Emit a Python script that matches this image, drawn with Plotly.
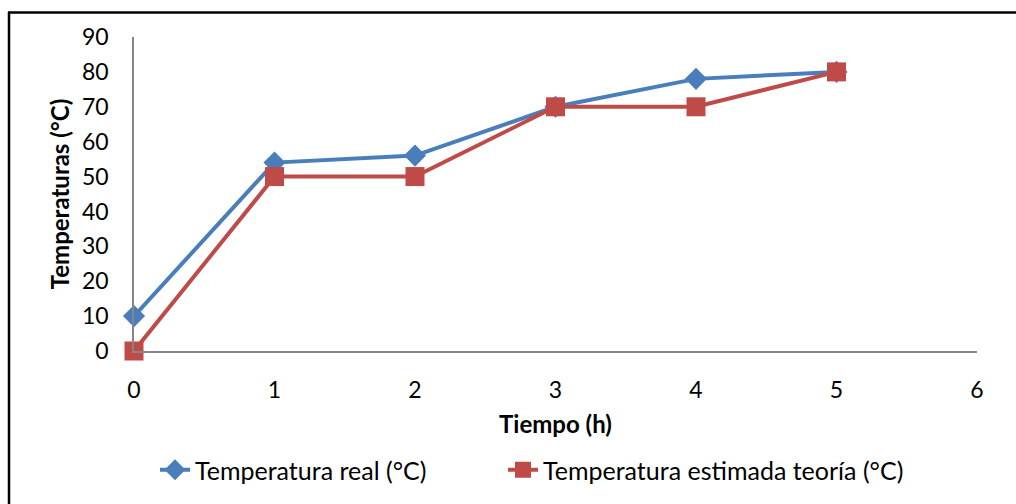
import plotly.graph_objects as go

tiempo = [0, 1, 2, 3, 4, 5]
temp_real = [10, 54, 56, 70, 78, 80]
temp_estimada = [0, 50, 50, 70, 70, 80]
x_ticks = [0, 1, 2, 3, 4, 5, 6]
y_ticks = [0, 10, 20, 30, 40, 50, 60, 70, 80, 90]

FONT = "Lato"
BLUE = "#4a7ebb"
RED = "#be4b48"

fig = go.Figure()
fig.add_trace(go.Scatter(
    x=tiempo, y=temp_real, name="Temperatura real (°C)",
    mode="lines+markers", cliponaxis=False, legend="legend",
    line=dict(color=BLUE, width=4),
    marker=dict(symbol="diamond", size=17, color=BLUE),
))
fig.add_trace(go.Scatter(
    x=tiempo, y=temp_estimada, name="Temperatura estimada teoría (°C)",
    mode="lines+markers", cliponaxis=False, legend="legend2",
    line=dict(color=RED, width=4),
    marker=dict(symbol="square", size=19, color=RED),
))

L, R, T, B = 134, 39, 37, 152
W, H = 1016, 504
pw, ph = W - L - R, H - T - B

leg_common = dict(orientation="h", xanchor="left",
                  y=(H - B - 470) / ph, yanchor="middle",
                  font=dict(size=25), bgcolor="rgba(0,0,0,0)")

fig.update_layout(
    width=W, height=H,
    margin=dict(l=L, r=R, t=T, b=B, pad=0),
    paper_bgcolor="white", plot_bgcolor="white",
    font=dict(family=FONT, size=23, color="black"),
    showlegend=True,
    legend=dict(x=(155 - L) / pw, **leg_common),
    legend2=dict(x=(503 - L) / pw, **leg_common),
    xaxis=dict(range=[0, 6], tickvals=x_ticks, showgrid=False, zeroline=False,
               showline=True, linecolor="#868686", linewidth=1.5,
               ticks="", ticklabelstandoff=18, tickfont=dict(size=23),
               title=dict(text="<b>Tiempo (h)</b>", font=dict(size=24), standoff=14)),
    yaxis=dict(range=[0, 90], tickvals=y_ticks, showgrid=False, zeroline=False,
               showline=True, linecolor="#868686", linewidth=1.5,
               ticks="", ticklabelstandoff=19, tickfont=dict(size=23),
               title=dict(text="<b>Temperaturas (°C)</b>", font=dict(size=24), standoff=6)),
    shapes=[
        dict(type="line", xref="paper", yref="paper",
             x0=(9 - L) / pw, x1=(9 - L) / pw, y0=(H - B - 12) / ph, y1=(H - B - 520) / ph,
             line=dict(color="black", width=2.5)),
        dict(type="line", xref="paper", yref="paper",
             x0=(8 - L) / pw, x1=(1030 - L) / pw, y0=(H - B - 12.5) / ph, y1=(H - B - 12.5) / ph,
             line=dict(color="black", width=2.5)),
    ],
)

fig.write_html("out.html")
